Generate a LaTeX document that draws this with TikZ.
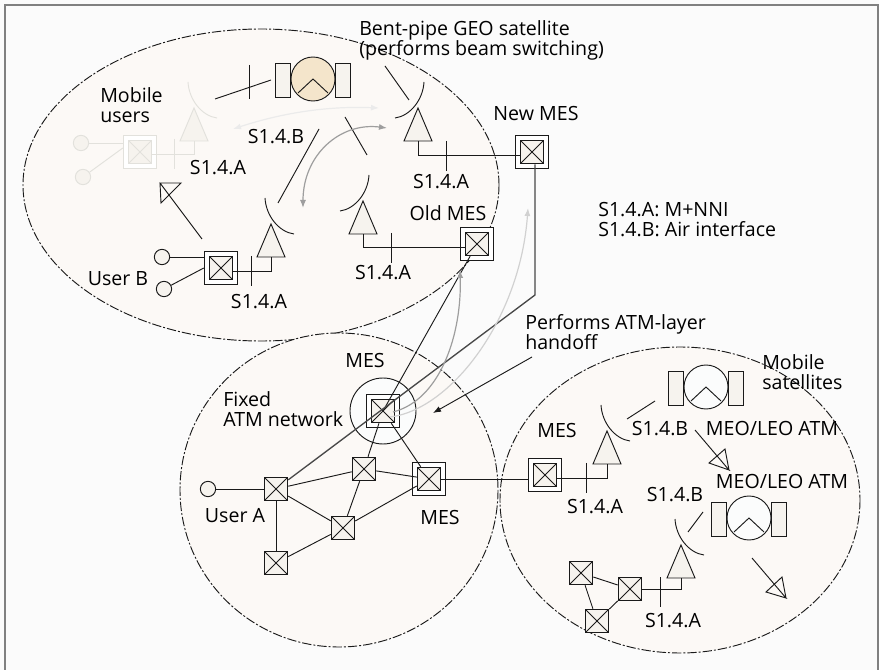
\documentclass[tikz,border=0pt]{standalone}
\usepackage{fontspec}
\setmainfont{Open Sans}
\usepackage{tikz}
\usetikzlibrary{arrows.meta,positioning,calc}

\definecolor{linecol}{HTML}{1A1A1A}
\definecolor{fadeline}{HTML}{E2E1DC}
\definecolor{boxfill}{HTML}{F6F3EE}
\definecolor{zonefill}{HTML}{FCF9F6}
\definecolor{pagefill}{HTML}{FBFBFB}
\definecolor{geofill}{HTML}{F4E5CB}
\definecolor{satfill}{HTML}{FBFCFC}

\tikzset{
	wire/.style={draw=linecol,line width=0.7pt},
	zone/.style={draw=linecol,fill=zonefill,line width=0.7pt,dash pattern=on 7pt off 1.5pt on 1.5pt off 1.5pt},
	txt/.style={font=\fontsize{14.7pt}{15pt}\selectfont,inner sep=0pt,align=left},
	swbox/.style={draw=#1,fill=boxfill,minimum size=17.5pt,inner sep=0pt,line width=0.9pt,
		path picture={\draw[#1,line width=0.6pt] (path picture bounding box.north west) -- (path picture bounding box.south east)
			(path picture bounding box.south west) -- (path picture bounding box.north east);}},
	swbox/.default=linecol,
	mesbox/.style={draw=#1,fill=white,minimum size=25pt,inner sep=0pt,line width=0.8pt},
	mesbox/.default=linecol,
	userdot/.style={draw=#1,fill=boxfill,circle,minimum size=11.5pt,inner sep=0pt,line width=0.7pt},
	userdot/.default=linecol,
	pics/antenna/.style 2 args={code={
		\draw[#1,fill=#2,line width=0.7pt] (0,0) -- (-14,33) -- (14,33) -- cycle;
		\draw[#1,line width=0.7pt] (-6,-26) .. controls (-5,-8) and (8,8) .. (23,10);
		\coordinate (-feed) at (0,33);
	}},
	pics/satellite/.style={code={
		\draw[linecol,fill=boxfill,line width=0.6pt] (-38,-16) rectangle (-23,18);
		\draw[linecol,fill=boxfill,line width=0.6pt] (22,-16) rectangle (37,18);
		\draw[linecol,fill=#1,line width=0.7pt] (0,0) circle (22);
		\draw[linecol,line width=0.7pt] (-15,14) -- (0,0) -- (15,14);
	}}
}

\begin{document}
\begin{tikzpicture}[x=0.75pt,y=-0.75pt]
	\useasboundingbox (0,0) rectangle (879,670);
	\fill[pagefill] (0,0) rectangle (879,670);
	\draw[gray,line width=1.2pt] (5,670) -- (5,5) -- (878,5) -- (878,670);
	\draw[zone] (261,185) ellipse (238 and 156);
	\draw[zone] (339,490) ellipse (159 and 157);
	\draw[zone] (680,500) ellipse (180 and 153);
	\foreach \cname/\cx/\cy in {geo1a/215/99,geo1b/271/80,geo2a/385/66,geo2b/409/100,
		geo3a/345/117,geo3b/367/155,geo4a/319/129,geo4b/278/203,
		mob1a/655/401,mob1b/627/419,mob2a/703/512,mob2b/688/532,
		usr-s/202/239,usr-t/160/183,usr-c/181/183,usr-d/161/203,
		upp-s/695/430,upp-t/729/470,upp-c/709/463,upp-d/725/449,
		low-s/752/558,low-t/786/598,low-c/766/592,low-d/782/577,
		newbend/535/295,handa/532/357,handb/433/413}
		\coordinate (\cname) at (\cx,\cy);

	\pic at (313,79) {satellite=geofill};
	\pic at (706,387) {satellite=satfill};
	\pic at (749,518) {satellite=satfill};
	\pic (antm) at (194,108) {antenna={fadeline}{boxfill}};
	\pic (antb) at (271,224) {antenna={linecol}{boxfill}};
	\pic[xscale=-1] (antn) at (418,108) {antenna={linecol}{boxfill}};
	\pic[xscale=-1] (anto) at (363,201) {antenna={linecol}{boxfill}};
	\pic (antf) at (607,431) {antenna={linecol}{boxfill}};
	\pic (antl) at (681,545) {antenna={linecol}{boxfill}};

	\draw[fill=satfill,draw=linecol,line width=0.7pt] (383,411) circle (33);

	\node[mesbox=fadeline] (mobbox) at (140,152) {};
	\node[swbox=fadeline] (mobsw) at (mobbox) {};
	\node[mesbox] (ubox) at (221,268) {};
	\node[swbox] (usw) at (ubox) {};
	\node[mesbox] (newbox) at (532,152) {};
	\node[swbox] (newsw) at (newbox) {};
	\node[mesbox] (oldbox) at (477,244) {};
	\node[swbox] (oldsw) at (oldbox) {};
	\node[mesbox] (cbox) at (383,411) {};
	\node[swbox] (csw) at (cbox) {};
	\node[mesbox] (ebox) at (429,479) {};
	\node[swbox] (esw) at (ebox) {};
	\node[mesbox] (fbox) at (545,475) {};
	\node[swbox] (fsw) at (fbox) {};
	\node[swbox] (swa) at (276,489) {};
	\node[swbox] (swb) at (276,563) {};
	\node[swbox] (swc) at (364,469) {};
	\node[swbox] (swd) at (343,528) {};
	\node[swbox] (swe) at (581,573) {};
	\node[swbox] (swf) at (630,589) {};
	\node[swbox] (swg) at (597,621) {};
	\node[userdot=fadeline] (mobu1) at (81,143) {};
	\node[userdot=fadeline] (mobu2) at (83,177) {};
	\node[userdot] (userb1) at (162,257) {};
	\node[userdot] (userb2) at (164,289) {};
	\node[userdot] (usera) at (208,489) {};

	\draw[fadeline,line width=0.7pt] (mobu1) -- (mobu1 -| mobbox.west);
	\draw[fadeline,line width=0.7pt] (mobu2) -- ([yshift=3pt]mobbox.west);
	\draw[fadeline,line width=0.7pt] ([yshift=-2pt]mobsw.east) -| (antm-feed);
	\draw[wire] (userb1) -- (userb1 -| ubox.west);
	\draw[wire] (userb2) -- ([yshift=0pt]ubox.west);
	\draw[wire] ([yshift=-2.5pt]usw.east) -| (antb-feed);
	\draw[wire] ([yshift=-2.5pt]newsw.west) -| (antn-feed);
	\draw[wire] ([yshift=-2.5pt]oldsw.west) -| (anto-feed);
	\draw[wire] ([yshift=-2.5pt]fsw.east) -| (antf-feed);
	\draw[wire] (swf.east) -| (antl-feed);
	\foreach \tx/\ty/\tc in {174/154/fadeline,251/271/linecol,446/156/linecol,391/248/linecol,586/478/linecol,660/592/linecol}
		\draw[\tc,line width=0.7pt] (\tx,\ty-15) -- (\tx,\ty+15);

	\draw[wire] (usera) -- (swa);
	\draw[wire] (swa) -- (swc);
	\draw[wire] (swa) -- (swd);
	\draw[wire] (swa) -- (swb);
	\draw[wire] (swb) -- (swd);
	\draw[wire] (swc) -- (swd);
	\draw[wire] (swc) -- (esw);
	\draw[wire] (swd) -- (esw);
	\draw[wire] (csw) -- (swc);
	\draw[wire] (csw) -- (esw);
	\draw[wire] (esw) -- (esw -| fbox.west);
	\draw[wire] (swe) -- (swf);
	\draw[wire] (swe) -- (swg);
	\draw[wire] (swf) -- (swg);
	\draw[wire] (oldsw) -- (csw.center);
	\draw[draw=linecol!80,line width=1pt] (newsw.south -| newbend) -- (newbend) -- (swa);
	\draw[wire,-{Latex[length=6pt,width=4.5pt]}] (handa) -- (handb);

	\draw[wire] (geo1a) -- (geo1b);
	\draw[wire] (geo2a) -- (geo2b);
	\draw[wire] (geo3a) -- (geo3b);
	\draw[wire] (geo4a) -- (geo4b);
	\draw[wire] (mob1a) -- (mob1b);
	\draw[wire] (mob2a) -- (mob2b);
	\draw[wire] (249,65) -- (249,99);
	\foreach \n in {usr,upp,low}
		\draw[wire] (\n-s) -- (\n-t) -- (\n-c) -- (\n-d) -- (\n-t);

	\draw[black!8,line width=0.9pt,{Latex[length=6pt,width=4.5pt]}-{Latex[length=6pt,width=4.5pt]}]
		(233,129) .. controls (285,112) and (330,106) .. (379,108);
	\draw[black!38,line width=0.9pt,{Latex[length=6pt,width=4.5pt]}-{Latex[length=6pt,width=4.5pt]}]
		(303,208) .. controls (303,155) and (340,122) .. (387,128);
	\draw[black!38,line width=0.9pt,-{Latex[length=6pt,width=4.5pt]}]
		(393,412) .. controls (440,400) and (462,335) .. (460,270);
	\draw[black!18,line width=0.9pt,-{Latex[length=6pt,width=4.5pt]}]
		(390,417) .. controls (450,410) and (520,320) .. (528,208);

	\node[txt,anchor=west] (mobusers) at (100,105) {Mobile\\users};
	\node[txt] (lab1) at (276,137) {S1.4.B};
	\node[txt] (lab2) at (218,168) {S1.4.A};
	\node[txt] (userb) at (118,279) {User B};
	\node[txt] (lab3) at (259,302) {S1.4.A};
	\node[txt] (lab4) at (383,273) {S1.4.A};
	\node[txt] (lab5) at (441,182) {S1.4.A};
	\node[txt] (oldmes) at (448,213) {Old MES};
	\node[txt] (newmes) at (536,114) {New MES};
	\node[txt,anchor=west] (bentpipe) at (359,40) {Bent-pipe GEO satellite\\(performs beam switching)};
	\node[txt,anchor=west] (legend) at (598,220) {S1.4.A: M+NNI\\S1.4.B: Air interface};
	\node[txt,anchor=west] (handoff) at (525,332) {Performs ATM-layer\\handoff};
	\node[txt] (mestop) at (365,360) {MES};
	\node[txt,anchor=west] (fixed) at (223,409) {Fixed\\ATM network};
	\node[txt] (usera-l) at (235,516) {User A};
	\node[txt] (mesright) at (440,517) {MES};
	\node[txt] (mesfar) at (557,431) {MES};
	\node[txt] (lab6) at (595,507) {S1.4.A};
	\node[txt] (lab7) at (660,429) {S1.4.B};
	\node[txt] (meo1) at (772,428) {MEO/LEO ATM};
	\node[txt] (meo2) at (782,481) {MEO/LEO ATM};
	\node[txt] (lab8) at (675,495) {S1.4.B};
	\node[txt] (lab9) at (673,621) {S1.4.A};
	\node[txt,anchor=west] (mobsat) at (762,372) {Mobile\\satellites};
\end{tikzpicture}
\end{document}
